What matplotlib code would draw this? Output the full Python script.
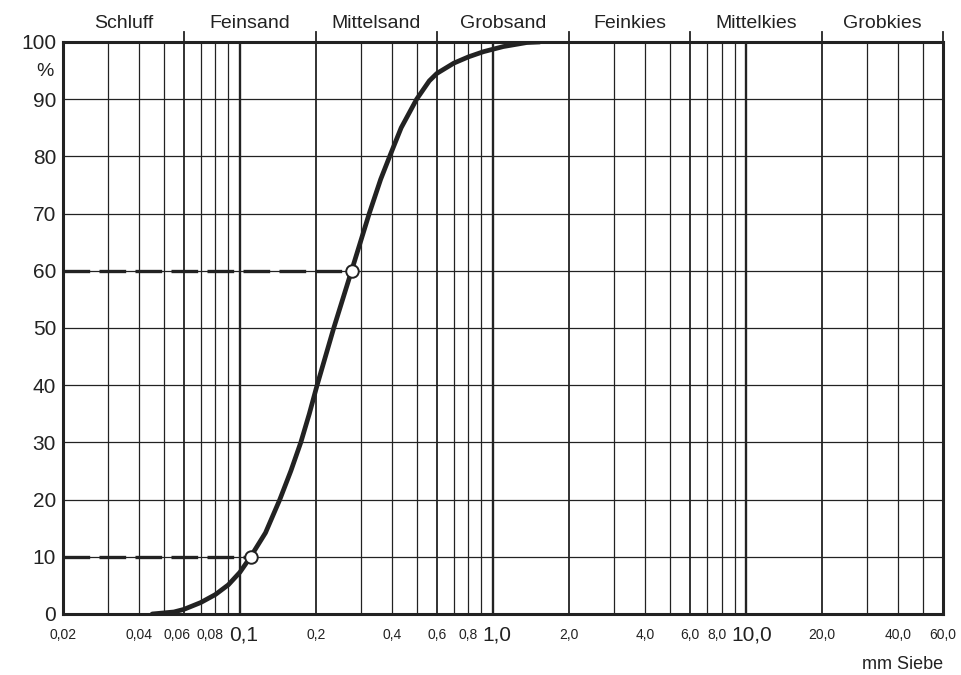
import numpy as np
import matplotlib
matplotlib.use("Agg")
import matplotlib.pyplot as plt
from matplotlib.transforms import ScaledTranslation

plt.rcParams['font.family'] = ['Liberation Sans', 'DejaVu Sans']

# grain size distribution (sieve opening in mm, passing in %)
sieve_mm = [0.045, 0.0548, 0.06, 0.07, 0.08, 0.09, 0.1, 0.1102, 0.1262, 0.1437,
            0.1589, 0.174, 0.188, 0.2018, 0.2348, 0.2761, 0.3242, 0.3599, 0.3905,
            0.4336, 0.4991, 0.56, 0.60, 0.70, 0.80, 0.916, 1.098, 1.358, 1.53]
passing = [0.0, 0.35, 0.8, 2.0, 3.4, 5.1, 7.3, 10.0, 14.2, 20.0,
           25.0, 30.0, 35.0, 40.0, 50.0, 60.0, 70.0, 76.0, 80.0,
           85.0, 90.0, 93.2, 94.5, 96.3, 97.4, 98.3, 99.2, 99.9, 100.0]

# marked points d10 and d60
mark_mm = [0.1102, 0.2761]
mark_pct = [10, 60]

# sieve grid lines
grid_mm = [0.02, 0.03, 0.04, 0.05, 0.06, 0.07, 0.08, 0.09,
           0.1, 0.2, 0.3, 0.4, 0.5, 0.6, 0.7, 0.8, 0.9,
           1.0, 2.0, 3.0, 4.0, 5.0, 6.0, 7.0, 8.0, 9.0,
           10.0, 20.0, 30.0, 40.0, 50.0, 60.0]
decades = [0.1, 1.0, 10.0]

# soil class boundaries and names
bounds = [0.02, 0.06, 0.2, 0.6, 2.0, 6.0, 20.0, 60.0]
classes = ['Schluff', 'Feinsand', 'Mittelsand', 'Grobsand',
           'Feinkies', 'Mittelkies', 'Grobkies']

# x tick labels
tick_mm = [0.02, 0.04, 0.06, 0.08, 0.1, 0.2, 0.4, 0.6, 0.8, 1.0,
           2.0, 4.0, 6.0, 8.0, 10.0, 20.0, 40.0, 60.0]
tick_lbl = ['0,02', '0,04', '0,06', '0,08', '0,1', '0,2', '0,4', '0,6', '0,8', '1,0',
            '2,0', '4,0', '6,0', '8,0', '10,0', '20,0', '40,0', '60,0']
# small sideways nudges (pt) where labels crowd
nudge = {'0,06': -5, '0,08': -4, '0,1': 3, '1,0': 3, '8,0': -3, '10,0': 4}
y_ticks = [0, 10, 20, 30, 40, 50, 60, 70, 80, 90, 100]

ink = '#222222'

fig = plt.figure(figsize=(9.61, 6.75), dpi=100)
ax = fig.add_axes([0.0656, 0.0904, 0.9157, 0.8474])
ax.set_xscale('log')
ax.set_xlim(0.02, 60)
ax.set_ylim(0, 100)

# grid
for v in grid_mm:
    lw = 1.7 if v in decades else (1.3 if v in bounds else 0.9)
    ax.axvline(v, color=ink, lw=lw, zorder=1)
for v in y_ticks[1:-1]:
    ax.axhline(v, color=ink, lw=0.9, zorder=1)

# boundary ticks above the frame
for b in bounds[1:]:
    ax.plot([b, b], [100, 101.8], color=ink, lw=1.3, clip_on=False, zorder=3)

# class names centred between boundaries
for i, name in enumerate(classes):
    xc = np.sqrt(bounds[i] * bounds[i + 1])
    ax.text(xc, 103.3, name, ha='center', va='center', fontsize=14, color=ink)

# dashed reference lines
for xm, ym in zip(mark_mm, mark_pct):
    ax.plot([0.02, xm], [ym, ym], color=ink, lw=2.4, dashes=(8, 2.8), zorder=3)

# curve and markers
ax.plot(sieve_mm, passing, color=ink, lw=3.4, solid_capstyle='round',
        solid_joinstyle='round', zorder=4)
ax.plot(mark_mm, mark_pct, 'o', ms=9, mfc='white', mec=ink, mew=1.4, zorder=5)

for s in ax.spines.values():
    s.set_linewidth(2.2)
    s.set_color(ink)

ax.minorticks_off()
ax.set_xticks(tick_mm)
ax.set_xticklabels(tick_lbl)
ax.set_yticks(y_ticks)
ax.tick_params(axis='both', length=0, colors=ink)
ax.tick_params(axis='x', pad=15)
ax.tick_params(axis='y', pad=5, labelsize=15)
for t, v, s in zip(ax.get_xticklabels(), tick_mm, tick_lbl):
    t.set_fontsize(15 if v in decades else 10)
    t.set_verticalalignment('center')
    if s in nudge:
        t.set_transform(t.get_transform() +
                        ScaledTranslation(nudge[s] / 72, 0, fig.dpi_scale_trans))

ax.text(-0.021, 94.9, '%', transform=ax.get_yaxis_transform(), ha='center', va='center',
        fontsize=14, color=ink)
ax.text(1.0, -0.089, 'mm Siebe', transform=ax.transAxes, ha='right', va='center',
        fontsize=13, color=ink)

fig.savefig('out.png', dpi=100, facecolor='white')
